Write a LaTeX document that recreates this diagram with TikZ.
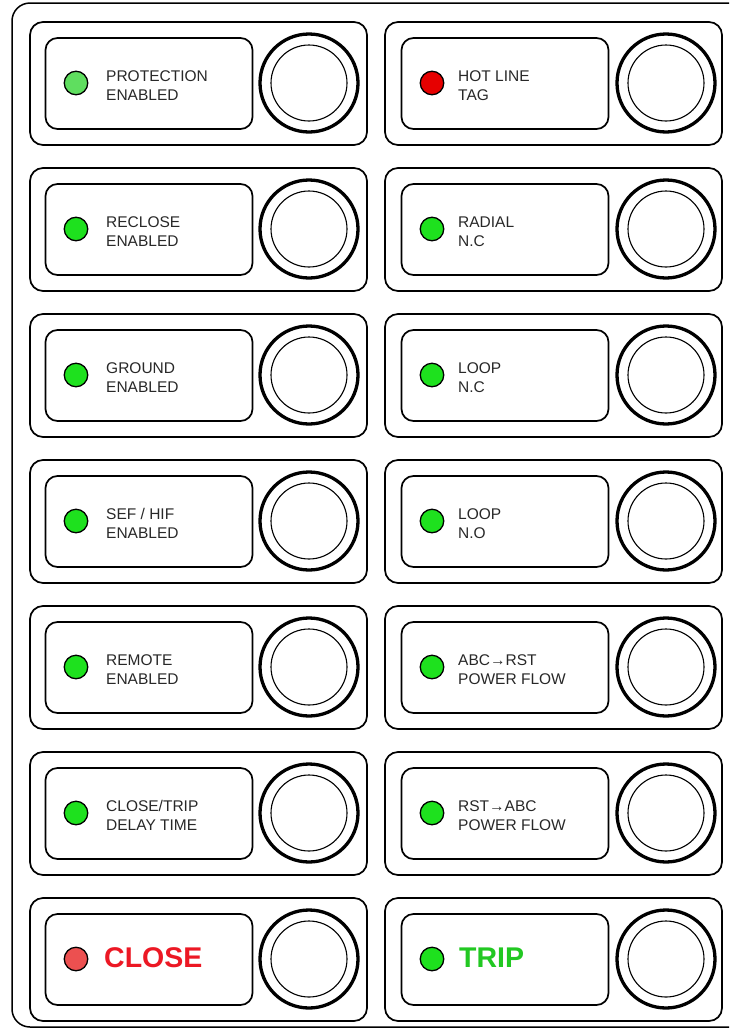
\documentclass[tikz,border=0pt]{standalone}
\usepackage{fontspec}
\setmainfont{Liberation Sans}
\definecolor{ledgreen}{RGB}{30,225,30}
\definecolor{ledlight}{RGB}{95,222,95}
\definecolor{ledred}{RGB}{230,0,0}
\definecolor{ledpink}{RGB}{236,80,80}
\definecolor{closered}{RGB}{236,24,36}
\definecolor{tripgreen}{RGB}{34,200,34}
\definecolor{txt}{RGB}{40,40,40}
\tikzset{
  frame/.style={draw=black, line width=1.5pt, rounded corners=18pt},
  panel/.style={draw=black, line width=1.7pt, rounded corners=13pt, rectangle,
    minimum width=337pt, minimum height=123pt, inner sep=0pt},
  lblbox/.style={draw=black, line width=1.7pt, rounded corners=12pt, rectangle,
    minimum width=207pt, minimum height=91pt, inner sep=0pt},
  btnout/.style={draw=black, line width=3.3pt, circle, minimum size=98pt, inner sep=0pt},
  btnin/.style={draw=black, line width=1.1pt, circle, minimum size=76pt, inner sep=0pt},
  led/.style={draw=black, line width=1.3pt, circle, minimum size=23.5pt, inner sep=0pt},
  lbltext/.style={anchor=west, align=left, inner sep=0pt, text=txt,
    font=\fontsize{15.5}{19}\selectfont},
  bigtext/.style={anchor=west, inner sep=0pt, font=\fontsize{28.5}{30}\selectfont\bfseries}
}
\begin{document}
\begin{tikzpicture}[x=1pt,y=-1pt]
\useasboundingbox (0,0) rectangle (729,1031);
\clip (0,0) rectangle (729,1031);
\fill[white] (0,0) rectangle (729,1031);
\draw[frame] (12,3) rectangle (748,1027);
% panels
\foreach \r/\side/\px/\bx/\btx/\lx/\tx/\col/\txt in {
  1/L/198.5/149/309/76/106/ledlight/{PROTECTION\\ENABLED},
  2/L/198.5/149/309/76/106/ledgreen/{RECLOSE\\ENABLED},
  3/L/198.5/149/309/76/106/ledgreen/{GROUND\\ENABLED},
  4/L/198.5/149/309/76/106/ledgreen/{SEF / HIF\\ENABLED},
  5/L/198.5/149/309/76/106/ledgreen/{REMOTE\\ENABLED},
  6/L/198.5/149/309/76/106/ledgreen/{CLOSE/TRIP\\DELAY TIME},
  1/R/553.5/505/666/432/458/ledred/{HOT LINE\\TAG},
  2/R/553.5/505/666/432/458/ledgreen/{RADIAL\\N.C},
  3/R/553.5/505/666/432/458/ledgreen/{LOOP\\N.C},
  4/R/553.5/505/666/432/458/ledgreen/{LOOP\\N.O},
  5/R/553.5/505/666/432/458/ledgreen/{ABC→RST\\POWER FLOW},
  6/R/553.5/505/666/432/458/ledgreen/{RST→ABC\\POWER FLOW}} {
  \pgfmathsetmacro{\top}{22+146*(\r-1)}
  \node[panel] (p\side\r) at (\px,\top+61.5) {};
  \node[lblbox] (b\side\r) at (\bx,\top+61.5) {};
  \node[btnout] (bo\side\r) at (\btx,\top+61) {};
  \node[btnin] (bi\side\r) at (\btx,\top+61) {};
  \node[led, fill=\col] (l\side\r) at (\lx,\top+61) {};
  \node[lbltext] (t\side\r) at (\tx,\top+63.5) {\txt};
}
% bottom row
\node[panel] (pL7) at (198.5,959.5) {};
\node[lblbox] (bL7) at (149,959.5) {};
\node[btnout] (boL7) at (309,959) {};
\node[btnin] (biL7) at (309,959) {};
\node[led, fill=ledpink] (lL7) at (76,959) {};
\node[bigtext, text=closered] (tL7) at (104,958) {CLOSE};
\node[panel] (pR7) at (553.5,959.5) {};
\node[lblbox] (bR7) at (505,959.5) {};
\node[btnout] (boR7) at (666,959) {};
\node[btnin] (biR7) at (666,959) {};
\node[led, fill=ledgreen] (lR7) at (432,959) {};
\node[bigtext, text=tripgreen] (tR7) at (459,958) {TRIP};
\end{tikzpicture}
\end{document}
